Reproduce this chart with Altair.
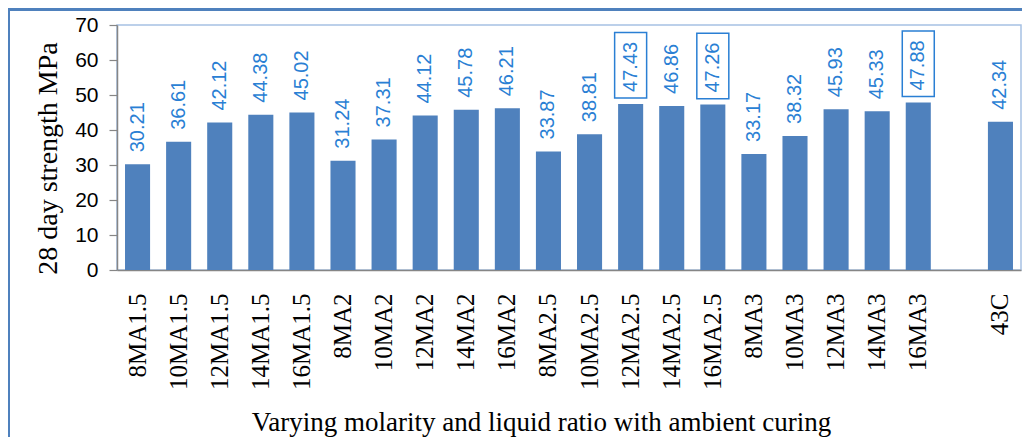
import altair as alt
import pandas as pd

categories = ["8MA1.5", "10MA1.5", "12MA1.5", "14MA1.5", "16MA1.5",
              "8MA2", "10MA2", "12MA2", "14MA2", "16MA2",
              "8MA2.5", "10MA2.5", "12MA2.5", "14MA2.5", "16MA2.5",
              "8MA3", "10MA3", "12MA3", "14MA3", "16MA3", "43C"]
values = [30.21, 36.61, 42.12, 44.38, 45.02,
          31.24, 37.31, 44.12, 45.78, 46.21,
          33.87, 38.81, 47.43, 46.86, 47.26,
          33.17, 38.32, 45.93, 45.33, 47.88, 42.34]
boxed = ["12MA2.5", "16MA2.5", "16MA3"]
y_ticks = [0, 10, 20, 30, 40, 50, 60, 70]
# axis slot order (an empty slot separates the control mix 43C)
slot_order = categories[:20] + [" "] + categories[20:]

df = pd.DataFrame({"mix": categories, "strength": values})
df["label"] = df["strength"].map(lambda v: f"{v:.2f}")
df["boxed"] = df["mix"].isin(boxed)

BAR = "#4f81bd"
LBL = "#2a7fd4"
GREY = "#868686"

x_scale = alt.Scale(domain=slot_order, paddingInner=0.39, paddingOuter=0.195)
x_axis = alt.Axis(
    title="Varying molarity and liquid ratio with ambient curing",
    titleFont="Liberation Serif", titleFontSize=27, titleFontWeight="normal",
    titleColor="black", titleX=424, titleY=160, titleAlign="center",
    titleBaseline="alphabetic", titleAngle=0,
    labelAngle=270, labelFont="Liberation Serif", labelFontSize=25,
    labelColor="black", labelPadding=23, ticks=False,
    domainColor=GREY, domainWidth=1.5, labelOverlap=False,
)
y_scale = alt.Scale(domain=[0, 70], nice=False)
y_axis = alt.Axis(
    title="28 day strength MPa", values=y_ticks, tickCount=8,
    titleFont="Liberation Serif", titleFontSize=28, titleFontWeight="normal",
    titleColor="black", titleX=-69, titleY=133, titleAngle=270,
    titleAlign="center", titleBaseline="middle",
    labelFont="Liberation Sans", labelFontSize=21, labelColor="black",
    labelPadding=11, labelOverlap=False, labelFlush=False, labelBound=False,
    tickSize=8, tickColor=GREY, tickWidth=1.2,
    domainColor=GREY, domainWidth=1.5, grid=False,
)


def xe():
    return alt.X("mix:N", sort=slot_order, scale=x_scale, axis=x_axis)


def ye(field):
    return alt.Y(field, scale=y_scale, axis=y_axis)


base = alt.Chart(df)

bars = base.mark_bar(color=BAR).encode(x=xe(), y=ye("strength:Q"))

labels = base.mark_text(
    angle=270, align="left", baseline="middle", dx=12,
    font="Liberation Sans", fontSize=20, color=LBL,
).encode(x=xe(), y=ye("strength:Q"), text="label:N")

boxes = base.transform_filter("datum.boxed").transform_calculate(
    box_lo="datum.strength + 1.7", box_hi="datum.strength + 20.4"
).mark_bar(width=32, fill="white", fillOpacity=0, stroke=LBL, strokeWidth=1.5).encode(
    x=xe(), y=ye("box_lo:Q"), y2="box_hi:Q",
)

frame_data = alt.Data(values=[{"k": 1}])
frame_left = alt.Chart(frame_data).mark_rule(color=BAR, strokeWidth=4).encode(
    x=alt.value(-109), y=alt.value(-16), y2=alt.value(600)
)
frame_top = alt.Chart(frame_data).mark_rule(color=BAR, strokeWidth=4).encode(
    x=alt.value(-110), x2=alt.value(1200), y=alt.value(-16)
)

chart = alt.layer(bars, boxes, labels, frame_left, frame_top).properties(
    width=904, height=245,
    autosize=alt.AutoSizeParams(type="none"),
    padding={"left": 109, "top": 17, "right": 1, "bottom": 167},
    background="white",
).configure_view(stroke="#a7c1e3", strokeWidth=1.5)

chart.save("out.html", embed_options={"renderer": "svg", "actions": False})
